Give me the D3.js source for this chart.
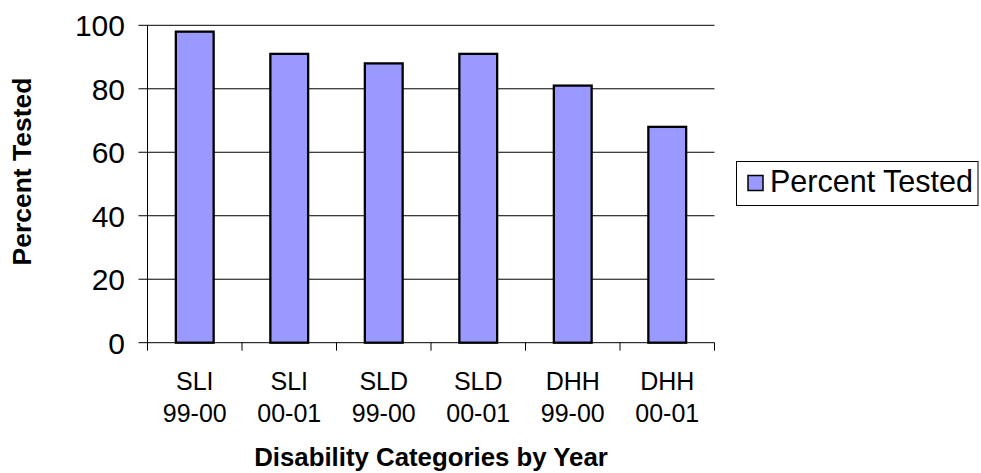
<!DOCTYPE html>
<html>
<head>
<meta charset="utf-8">
<script src="https://cdn.jsdelivr.net/npm/d3@7"></script>
<style>
  html, body { margin: 0; padding: 0; background: #fff; }
  svg { display: block; font-family: "Liberation Sans", Arial, sans-serif; }
</style>
</head>
<body>
<svg id="chart" width="981" height="473"></svg>
<script>
// Percent of students tested, by disability category and school year
const categoryNames = ["SLI", "SLI", "SLD", "SLD", "DHH", "DHH"];
const categoryYears = ["99-00", "00-01", "99-00", "00-01", "99-00", "00-01"];
const percentTested = [98, 91, 88, 91, 81, 68];
const yTicks = [0, 20, 40, 60, 80, 100];
const seriesName = "Percent Tested";
const xTitle = "Disability Categories by Year";
const yTitle = "Percent Tested";

const svg = d3.select("#chart");
const plot = { left: 147.5, right: 714.5, top: 25.3, bottom: 342.7 };
const barColor = "#9999ff";

const keys = percentTested.map((_, i) => i);
const x = d3.scaleBand().domain(keys).range([plot.left, plot.right]).paddingInner(0.6).paddingOuter(0.3);
const band = d3.scaleBand().domain(keys).range([plot.left, plot.right]);
const y = d3.scaleLinear().domain([0, 100]).range([plot.bottom, plot.top]);

// horizontal gridlines, extended left as tick marks
const grid = svg.append("g");
grid.selectAll("line").data(yTicks).join("line")
  .attr("x1", plot.left - 9).attr("x2", plot.right)
  .attr("y1", d => y(d)).attr("y2", d => y(d))
  .attr("stroke", "#000").attr("stroke-width", 1);

// y axis line
svg.append("line")
  .attr("x1", plot.left).attr("x2", plot.left)
  .attr("y1", plot.top).attr("y2", plot.bottom)
  .attr("stroke", "#000").attr("stroke-width", 1);

// y tick labels
svg.append("g").selectAll("text").data(yTicks).join("text")
  .attr("x", 125).attr("y", d => y(d))
  .attr("dy", "0.36em")
  .attr("text-anchor", "end")
  .attr("font-size", 30)
  .attr("fill", "#000")
  .text(d => d);

// x tick marks at band boundaries
const boundaries = keys.map(k => band(k)).concat([plot.right]);
svg.append("g").selectAll("line").data(boundaries).join("line")
  .attr("x1", d => d).attr("x2", d => d)
  .attr("y1", plot.bottom).attr("y2", plot.bottom + 8)
  .attr("stroke", "#000").attr("stroke-width", 1);

// bars
svg.append("g").selectAll("rect").data(percentTested).join("rect")
  .attr("x", (d, i) => x(i))
  .attr("width", x.bandwidth())
  .attr("y", d => y(d))
  .attr("height", d => y(0) - y(d))
  .attr("fill", barColor)
  .attr("stroke", "#000")
  .attr("stroke-width", 2.3);

// category labels (two lines)
const cat = svg.append("g").selectAll("text").data(keys).join("text")
  .attr("text-anchor", "middle")
  .attr("font-size", 25)
  .attr("fill", "#000");
cat.append("tspan")
  .attr("x", i => band(i) + band.bandwidth() / 2)
  .attr("y", 390)
  .text(i => categoryNames[i]);
cat.append("tspan")
  .attr("x", i => band(i) + band.bandwidth() / 2)
  .attr("y", 422)
  .text(i => categoryYears[i]);

// axis titles
svg.append("text")
  .attr("x", (plot.left + plot.right) / 2)
  .attr("y", 466)
  .attr("text-anchor", "middle")
  .attr("font-size", 25.8)
  .attr("font-weight", "bold")
  .text(xTitle);

svg.append("text")
  .attr("transform", "translate(31,171.5) rotate(-90)")
  .attr("text-anchor", "middle")
  .attr("font-size", 26.5)
  .attr("font-weight", "bold")
  .text(yTitle);

// legend
const legend = svg.append("g");
legend.append("rect")
  .attr("x", 736.5).attr("y", 161.5)
  .attr("width", 241.5).attr("height", 44)
  .attr("fill", "#fff").attr("stroke", "#000").attr("stroke-width", 1);
legend.append("rect")
  .attr("x", 748).attr("y", 175.5)
  .attr("width", 15).attr("height", 15)
  .attr("fill", barColor).attr("stroke", "#000").attr("stroke-width", 1.5);
legend.append("text")
  .attr("x", 770).attr("y", 191.5)
  .attr("font-size", 30.5)
  .attr("fill", "#000")
  .text(seriesName);
</script>
</body>
</html>
